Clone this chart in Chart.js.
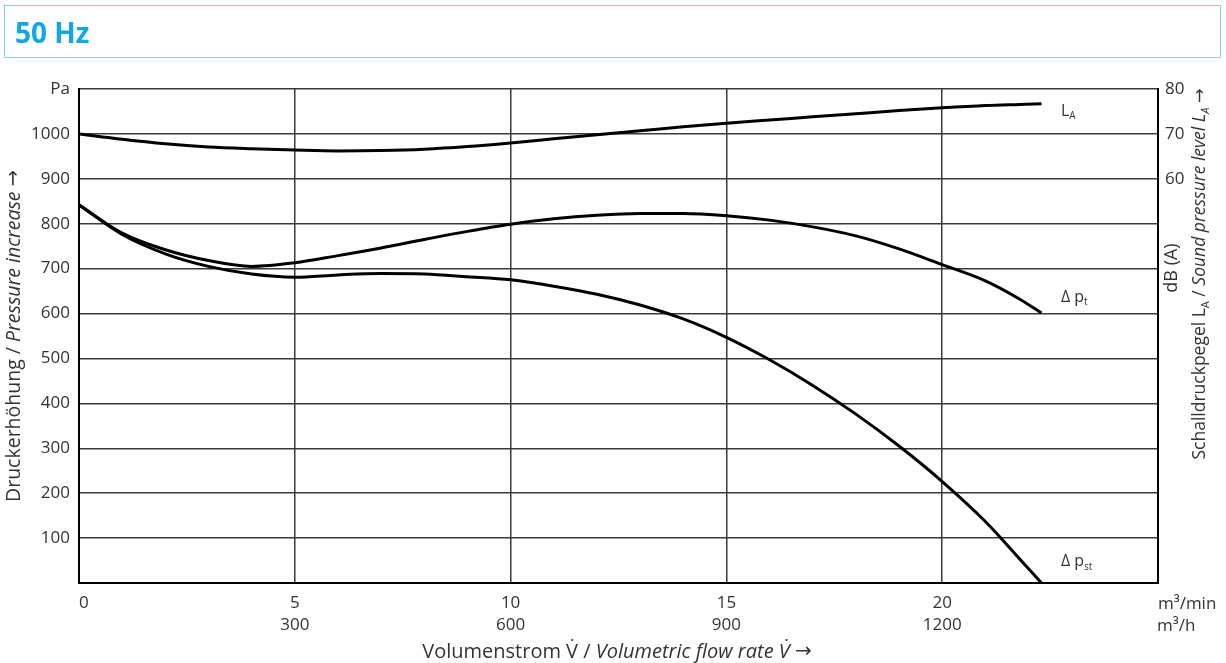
<!DOCTYPE html>
<html>
<head>
<meta charset="utf-8">
<script src="https://cdn.jsdelivr.net/npm/chart.js@4.4.1/dist/chart.umd.min.js"></script>
<style>
  html, body { margin: 0; padding: 0; background: #fff; }
  #wrap { position: relative; width: 1226px; height: 663px; }
  #head {
    position: absolute; left: 4px; top: 5px; width: 1217px; height: 53px;
    box-sizing: border-box; border: 1.5px solid #86d2f1;
    font: bold 28px "Open Sans", sans-serif; color: #12a6e4;
    line-height: 52px; padding-left: 10px;
  }
  #chart { position: absolute; left: 0; top: 0; }
</style>
</head>
<body>
<div id="wrap">
  <canvas id="chart" width="1226" height="663"></canvas>
  <div id="head">50 Hz</div>
</div>
<script>
// axis ticks
var flowTicks = [0, 5, 10, 15, 20, 25];
var flowTickLabels = [["0"], ["5", "300"], ["10", "600"], ["15", "900"], ["20", "1200"], [""]];
var pressureTicks = [0, 100, 200, 300, 400, 500, 600, 700, 800, 900, 1000, 1100];
var pressureTickLabels = ["", "100", "200", "300", "400", "500", "600", "700", "800", "900", "1000", "Pa"];
var levelTicks = [60, 70, 80];
var levelTickLabels = ["60", "70", "80"];

// curves (flow in m3/min)
var flow = [0, 1, 2, 3, 4, 5, 6, 7, 8, 9, 10, 11, 12, 13, 14, 15, 16, 17, 18, 19, 20, 21, 21.8, 22.3];
var laLevel = [70, 68.8, 67.8, 67.1, 66.7, 66.4, 66.2, 66.3, 66.6, 67.2, 68.0, 68.9, 69.8, 70.7,
  71.6, 72.4, 73.1, 73.8, 74.5, 75.2, 75.8, 76.3, 76.55, 76.7];
var ptPressure = [842, 779, 742, 718, 705, 713, 729, 746, 765, 783, 799, 811, 819, 823,
  823, 818, 808, 793, 773, 744, 709, 673, 632, 601];
var pstPressure = [842, 776, 733, 705, 688, 681, 686, 689, 688, 682, 675, 661, 643, 619,
  588, 547, 497, 440, 376, 305, 226, 137, 53, 0];

var textColor = "#333";
var fontFamily = '"Open Sans", sans-serif';
var arrowFont = '"DejaVu Sans", sans-serif';

function points(xs, ys) {
  return xs.map(function (x, i) { return { x: x, y: ys[i] }; });
}

function fontFor(run, size) {
  var s = run.sub ? Math.round(size * 0.62) : size;
  return (run.it ? "italic " : "") + s + "px " + (run.f || fontFamily);
}

// draw text runs (normal / italic / subscript) starting or centred at x
function drawRuns(ctx, runs, x, y, size, center) {
  var total = 0;
  runs.forEach(function (r) {
    ctx.font = fontFor(r, size);
    r.w = ctx.measureText(r.t).width;
    total += r.w;
  });
  var cx = center ? x - total / 2 : x;
  runs.forEach(function (r) {
    ctx.font = fontFor(r, size);
    ctx.fillText(r.t, cx, y + (r.sub ? size * 0.32 : 0));
    cx += r.w;
  });
}

var labelsPlugin = {
  id: "labels",
  afterDraw: function (chart) {
    var ctx = chart.ctx;
    var xs = chart.scales.x, ys = chart.scales.y;
    var area = chart.chartArea;
    ctx.save();
    ctx.fillStyle = textColor;
    ctx.textBaseline = "middle";
    ctx.textAlign = "left";

    // curve names
    var lx = xs.getPixelForValue(22.75);
    drawRuns(ctx, [{ t: "L" }, { t: "A", sub: true }], lx, ys.getPixelForValue(1050), 16, false);
    drawRuns(ctx, [{ t: "\u0394 p" }, { t: "t", sub: true }], lx, ys.getPixelForValue(636), 16, false);
    drawRuns(ctx, [{ t: "\u0394 p" }, { t: "st", sub: true }], lx, ys.getPixelForValue(47), 16, false);

    // units of the flow axis
    drawRuns(ctx, [{ t: "m\u00b3/min" }], area.right, 604, 17, false);
    drawRuns(ctx, [{ t: "m\u00b3/h" }], area.right - 1, 626, 17, false);

    // bottom title
    drawRuns(ctx, [{ t: "Volumenstrom V\u0307 / " }, { t: "Volumetric flow rate V\u0307 ", it: true },
      { t: "\u2192", f: arrowFont }], 617, 652, 20, true);

    // left title
    ctx.save();
    ctx.translate(14, (area.top + area.bottom) / 2);
    ctx.rotate(-Math.PI / 2);
    drawRuns(ctx, [{ t: "Druckerh\u00f6hung / " }, { t: "Pressure increase ", it: true },
      { t: "\u2192", f: arrowFont }], 0, 0, 19.5, true);
    ctx.restore();

    // right titles
    ctx.save();
    ctx.translate(1172, 268);
    ctx.rotate(-Math.PI / 2);
    drawRuns(ctx, [{ t: "dB (A)" }], 0, 0, 18, true);
    ctx.restore();

    ctx.save();
    ctx.translate(1200, 274);
    ctx.rotate(-Math.PI / 2);
    drawRuns(ctx, [
      { t: "Schalldruckpegel L" }, { t: "A", sub: true }, { t: " / " },
      { t: "Sound pressure level L", it: true }, { t: "A", it: true, sub: true }, { t: " " },
      { t: "\u2192", f: arrowFont }
    ], 0, 0, 17.5, true);
    ctx.restore();

    ctx.restore();
  }
};

var lineStyle = {
  borderColor: "#000",
  borderWidth: 3,
  pointRadius: 0,
  fill: false,
  cubicInterpolationMode: "monotone"
};

new Chart(document.getElementById("chart"), {
  type: "line",
  data: {
    datasets: [
      Object.assign({ label: "LA", data: points(flow, laLevel), yAxisID: "y2" }, lineStyle),
      Object.assign({ label: "dpt", data: points(flow, ptPressure), yAxisID: "y" }, lineStyle),
      Object.assign({ label: "dpst", data: points(flow, pstPressure), yAxisID: "y" }, lineStyle)
    ]
  },
  options: {
    responsive: false,
    animation: false,
    events: [],
    layout: { padding: { top: 89, left: 0, right: 0, bottom: 0 } },
    plugins: { legend: { display: false }, tooltip: { enabled: false } },
    scales: {
      x: {
        type: "linear",
        min: 0,
        max: 25,
        afterBuildTicks: function (scale) {
          scale.ticks = flowTicks.map(function (v) { return { value: v }; });
        },
        afterFit: function (scale) { scale.height = 80; },
        grid: { color: "#3a3a3a", lineWidth: 1.5, drawTicks: false },
        border: { color: "#000", width: 2 },
        ticks: {
          align: "inner",
          padding: 9,
          color: textColor,
          font: { family: fontFamily, size: 17, lineHeight: 1.3 },
          callback: function (v) { return flowTickLabels[flowTicks.indexOf(v)]; }
        }
      },
      y: {
        position: "left",
        min: 0,
        max: 1100,
        afterBuildTicks: function (scale) {
          scale.ticks = pressureTicks.map(function (v) { return { value: v }; });
        },
        afterFit: function (scale) { scale.width = 79; },
        grid: { color: "#3a3a3a", lineWidth: 1.5, drawTicks: false },
        border: { color: "#000", width: 2 },
        ticks: {
          padding: 9,
          color: textColor,
          font: { family: fontFamily, size: 17 },
          callback: function (v) { return pressureTickLabels[pressureTicks.indexOf(v)]; }
        }
      },
      y2: {
        position: "right",
        min: -30,
        max: 80,
        afterBuildTicks: function (scale) {
          scale.ticks = levelTicks.map(function (v) { return { value: v }; });
        },
        afterFit: function (scale) { scale.width = 68; },
        grid: { display: false, drawTicks: false },
        border: { color: "#000", width: 2 },
        ticks: {
          padding: 7,
          color: textColor,
          font: { family: fontFamily, size: 17 },
          callback: function (v) { return levelTickLabels[levelTicks.indexOf(v)]; }
        }
      }
    }
  },
  plugins: [labelsPlugin]
});
</script>
</body>
</html>
